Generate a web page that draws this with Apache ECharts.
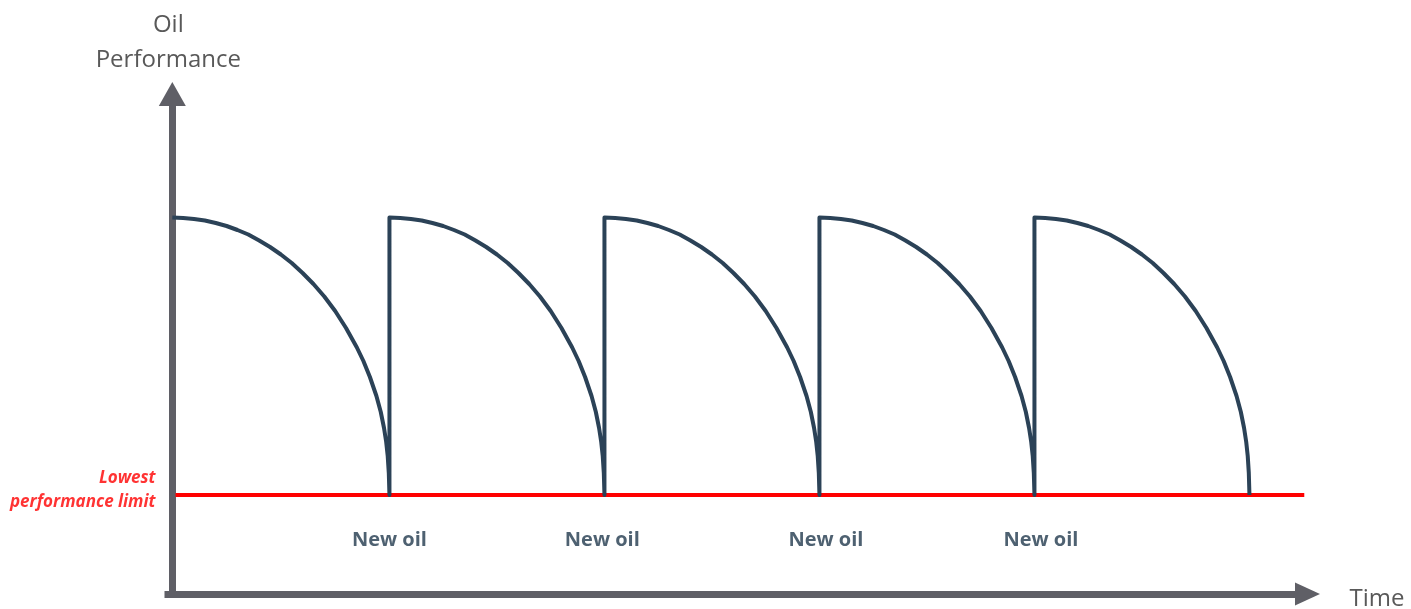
<!DOCTYPE html>
<html>
<head>
<meta charset="utf-8">
<script src="https://cdn.jsdelivr.net/npm/echarts@6/dist/echarts.min.js"></script>
<style>
html,body{margin:0;padding:0;background:#fff;}
#chart{width:1411px;height:609px;}
</style>
</head>
<body>
<div id="chart"></div>
<script>
// Cycle boundaries on the time axis (each "New oil" refill)
const cycleTimes = [0, 10.1, 20.1, 30.1, 40.1, 50.1];
// One decay arc: fraction of the cycle -> oil performance
const arcFraction = [0, 0.05, 0.1, 0.15, 0.2, 0.25, 0.3, 0.35, 0.4, 0.45, 0.5, 0.55, 0.6, 0.65, 0.7, 0.75, 0.8, 0.85, 0.88, 0.91, 0.94, 0.96, 0.975, 0.985, 0.992, 0.997, 1.0];
const arcPerformance = [75.3, 75.2, 75.0, 74.7, 74.2, 73.6, 72.8, 71.9, 70.7, 69.4, 67.9, 66.2, 64.2, 62.0, 59.5, 56.6, 53.2, 49.3, 46.6, 43.4, 39.6, 36.4, 33.2, 30.4, 27.6, 24.2, 19.8];
// Lowest performance limit line
const lowestLimit = 19.8;
const limitSpan = [0.15, 52.65];
// "New oil" annotations (time where each label sits, and its level)
const newOilTimes = [10.1, 20.0, 30.4, 40.4];
const newOilLevel = 10.8;
const newOilText = 'New oil';

const perfData = [];
for (let c = 0; c < cycleTimes.length - 1; c++) {
  const t0 = cycleTimes[c], t1 = cycleTimes[c + 1];
  for (let i = 0; i < arcFraction.length; i++) {
    perfData.push([t0 + arcFraction[i] * (t1 - t0), arcPerformance[i]]);
  }
}
const limitData = limitSpan.map(t => [t, lowestLimit]);
const newOilData = newOilTimes.map(t => [t, newOilLevel]);

const axisGray = '#5f5f66';
const curveColor = '#2b4257';
const FONT = 'Open Sans';

const chart = echarts.init(document.getElementById('chart'), null, {renderer: 'canvas'});
chart.setOption({
  animation: false,
  backgroundColor: '#ffffff',
  grid: {left: 168, right: 103.5, top: 94, bottom: 15, containLabel: false, outerBoundsMode: 'none'},
  xAxis: {
    type: 'value', min: -0.2, max: 52.8,
    name: 'Time', nameLocation: 'end', nameGap: 42,
    nameTextStyle: {color: '#595959', fontSize: 24, fontFamily: FONT, verticalAlign: 'top', lineHeight: 10},
    axisLine: {show: true, symbol: ['none', 'triangle'], symbolSize: [23, 25],
      lineStyle: {color: axisGray, width: 7, cap: 'square'}},
    axisTick: {show: false}, axisLabel: {show: false}, splitLine: {show: false}
  },
  yAxis: {
    type: 'value', min: 0, max: 100,
    name: 'Oil\nPerformance', nameLocation: 'end', nameGap: 16,
    nameTextStyle: {color: '#595959', fontSize: 24, fontFamily: FONT, lineHeight: 35, align: 'center', padding: [0, 8, 0, 0]},
    axisLine: {show: true, symbol: ['none', 'triangle'], symbolSize: [27, 24],
      lineStyle: {color: axisGray, width: 7, cap: 'square'}},
    axisTick: {show: false}, axisLabel: {show: false}, splitLine: {show: false}
  },
  series: [
    {
      type: 'line', data: limitData, symbol: 'none', z: 2,
      lineStyle: {color: '#ff0000', width: 4}
    },
    {
      type: 'scatter', data: [limitData[0]], symbolSize: 0, z: 3,
      label: {show: true, position: 'left', distance: 20, offset: [0, -5],
        formatter: 'Lowest\nperformance limit', align: 'right',
        color: '#ff0000', fontSize: 17, fontStyle: 'italic', fontWeight: 'bold',
        fontFamily: FONT, lineHeight: 24}
    },
    {
      type: 'line', data: perfData, symbol: 'none', z: 4,
      lineStyle: {color: curveColor, width: 4, join: 'round'}
    },
    {
      type: 'scatter', data: newOilData, symbolSize: 0, z: 3,
      label: {show: true, position: 'inside', formatter: newOilText,
        color: '#22394e', fontSize: 20, fontWeight: 'bold', fontFamily: FONT}
    }
  ]
});
</script>
</body>
</html>
